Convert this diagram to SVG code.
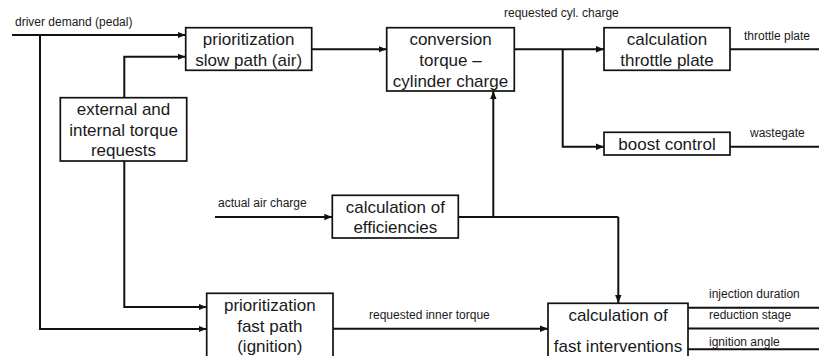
<svg xmlns="http://www.w3.org/2000/svg" width="819" height="356" viewBox="0 0 819 356">
  <style>
    .box { fill: #fff; stroke: #111; stroke-width: 1.7; }
    .line { fill: none; stroke: #111; stroke-width: 2; }
    .arr { marker-end: url(#ah); }
    .big { font-family: "Liberation Sans", Arial, sans-serif; font-size: 17px; fill: #1a1a1a; text-anchor: middle; }
    .small { font-family: "Liberation Sans", Arial, sans-serif; font-size: 12px; fill: #1a1a1a; }
  </style>
  <defs>
    <marker id="ah" markerUnits="userSpaceOnUse" markerWidth="8" markerHeight="8" viewBox="0 0 8 8" refX="8" refY="4" orient="auto">
      <path d="M0,0.8 L8,4 L0,7.2 Z" fill="#111"/>
    </marker>
  </defs>
  <rect width="819" height="356" fill="#fff"/>

  <!-- connectors -->
  <g id="connectors">
    <!-- driver demand -->
    <path class="line arr" d="M12,35 H185.5"/>
    <path class="line arr" d="M40,35 V329 H206.5"/>
    <!-- torque requests -->
    <path class="line arr" d="M124.3,97.7 V56.7 H185.5"/>
    <path class="line arr" d="M124.3,161 V307 H206.5"/>
    <!-- slow path to conversion -->
    <path class="line arr" d="M311.7,49.3 H386.5"/>
    <!-- conversion to throttle / boost -->
    <path class="line arr" d="M514.3,49.3 H604"/>
    <path class="line arr" d="M562.7,49.3 V146.7 H604"/>
    <!-- outputs -->
    <path class="line" d="M730,49.3 H819"/>
    <path class="line" d="M730,146.7 H819"/>
    <!-- actual air charge -->
    <path class="line arr" d="M215,217 H332.3"/>
    <!-- efficiencies -->
    <path class="line" d="M458.3,217 H618.3"/>
    <path class="line arr" d="M618.3,217 V303"/>
    <path class="line arr" d="M493.3,217 V91"/>
    <!-- requested inner torque -->
    <path class="line arr" d="M333,328.7 H548"/>
    <!-- fast intervention outputs -->
    <path class="line" d="M688,307.7 H819"/>
    <path class="line" d="M688,328.5 H819"/>
    <path class="line" d="M688,349.3 H819"/>
  </g>

  <!-- signal labels -->
  <g id="labels">
    <text class="small" x="15" y="26">driver demand (pedal)</text>
    <text class="small" x="504" y="17">requested cyl. charge</text>
    <text class="small" x="744" y="40">throttle plate</text>
    <text class="small" x="750" y="137">wastegate</text>
    <text class="small" x="218" y="207">actual air charge</text>
    <text class="small" x="369" y="319">requested inner torque</text>
    <text class="small" x="709" y="298">injection duration</text>
    <text class="small" x="709" y="319">reduction stage</text>
    <text class="small" x="709" y="346">ignition angle</text>
  </g>

  <g id="slow-path">
    <rect class="box" x="185.7" y="27.7" width="126" height="42.6"/>
    <text class="big" x="248.7" y="45">prioritization</text>
    <text class="big" x="248.7" y="66">slow path (air)</text>
  </g>

  <g id="torque-requests">
    <rect class="box" x="60.3" y="97.7" width="126.4" height="63.3"/>
    <text class="big" x="123.5" y="115">external and</text>
    <text class="big" x="123.5" y="135.5">internal torque</text>
    <text class="big" x="123.5" y="156">requests</text>
  </g>

  <g id="conversion">
    <rect class="box" x="386.7" y="27.7" width="127.6" height="63.3"/>
    <text class="big" x="450.5" y="45">conversion</text>
    <text class="big" x="450.5" y="66">torque –</text>
    <text class="big" x="450.5" y="86.5">cylinder charge</text>
  </g>

  <g id="throttle">
    <rect class="box" x="604" y="27.7" width="126" height="42.6"/>
    <text class="big" x="667" y="45">calculation</text>
    <text class="big" x="667" y="66">throttle plate</text>
  </g>

  <g id="boost">
    <rect class="box" x="604" y="132.3" width="126" height="22.7"/>
    <text class="big" x="667" y="150">boost control</text>
  </g>

  <g id="efficiencies">
    <rect class="box" x="332.3" y="195.3" width="126" height="42.7"/>
    <text class="big" x="395.3" y="212.5">calculation of</text>
    <text class="big" x="395.3" y="233">efficiencies</text>
  </g>

  <g id="fast-path">
    <rect class="box" x="206.7" y="293.3" width="126.3" height="70"/>
    <text class="big" x="269.8" y="311">prioritization</text>
    <text class="big" x="269.8" y="331.5">fast path</text>
    <text class="big" x="269.8" y="351.5">(ignition)</text>
  </g>

  <g id="fast-interventions">
    <rect class="box" x="548" y="303.3" width="140" height="60"/>
    <text class="big" x="618" y="321">calculation of</text>
    <text class="big" x="618" y="351.5">fast interventions</text>
  </g>
</svg>
